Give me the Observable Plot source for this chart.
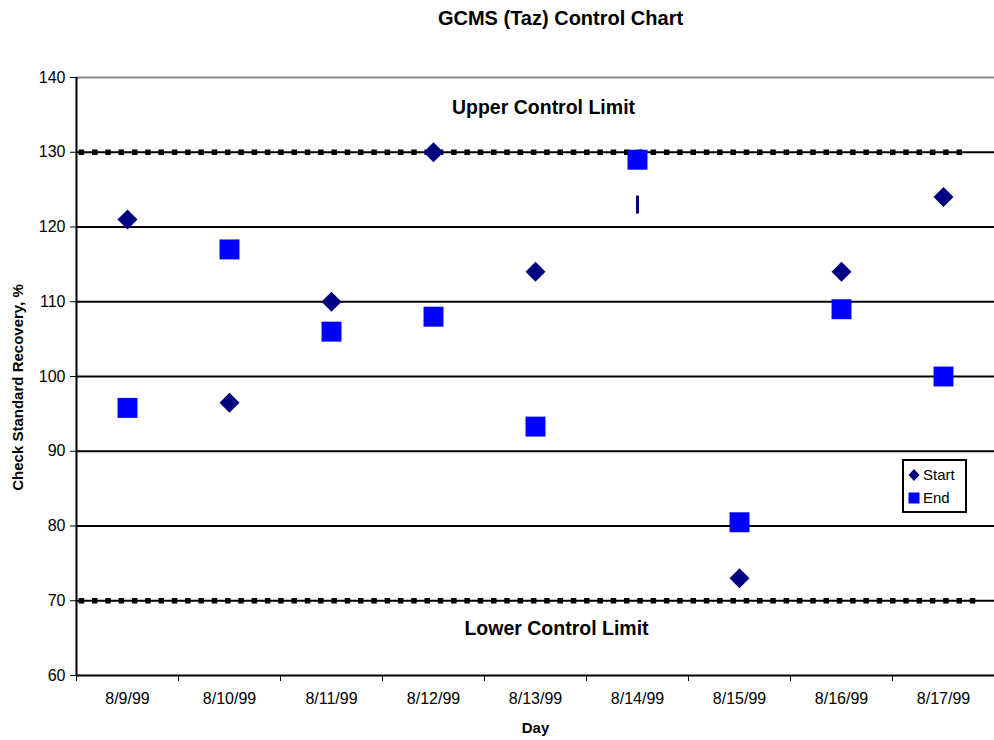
<!DOCTYPE html>
<html>
<head>
<meta charset="utf-8">
<script src="https://cdn.jsdelivr.net/npm/d3@7"></script>
<script src="https://cdn.jsdelivr.net/npm/@observablehq/plot@0.6"></script>
<style>
  html, body { margin: 0; padding: 0; background: #fff; }
  #wrap { position: relative; width: 994px; height: 740px; font-family: "Liberation Sans", Arial, sans-serif; }
  #legend { position: absolute; left: 902px; top: 459px; width: 61px; height: 50px; border: 2px solid #000; background: #fff; font-size: 15px; }
  .item { position: absolute; left: 4px; display: flex; align-items: center; }
  .item span { margin-left: 3px; }
</style>
</head>
<body>
<div id="wrap"></div>
<script>
const days = ["8/9/99","8/10/99","8/11/99","8/12/99","8/13/99","8/14/99","8/15/99","8/16/99","8/17/99"];
const startVals = [121, 96.5, 110, 130, 114, 123, 73, 114, 124];
const endVals = [95.8, 117, 106, 108, 93.3, 129, 80.5, 109, 100];
const yTicks = [60, 70, 80, 90, 100, 110, 120, 130, 140];
const gridLines = [80, 90, 100, 110, 120];
const controlLimits = [70, 130];
const upperLabel = "Upper Control Limit";
const lowerLabel = "Lower Control Limit";
const upperLabelValue = 136;
const lowerLabelValue = 66.2;
const title = "GCMS (Taz) Control Chart";
const yLabel = "Check Standard Recovery, %";
const xLabel = "Day";
const seriesNames = ["Start", "End"];

const idx = d3.range(days.length);
const startData = idx.map(i => ({i, v: startVals[i]}));
const endData = idx.map(i => ({i, v: endVals[i]}));
const narrow = {draw(ctx, size) { ctx.rect(-1.5, -9, 3, 18); }};
const font = "Liberation Sans, Arial, sans-serif";

const chart = Plot.plot({
  width: 994, height: 740,
  marginLeft: 76, marginRight: 0, marginTop: 77, marginBottom: 65,
  style: {fontFamily: font, color: "#000", background: "#fff"},
  x: {type: "linear", domain: [-0.5, days.length - 0.5]},
  y: {domain: [60, 140]},
  marks: [
    Plot.ruleY([140], {stroke: "#888", strokeWidth: 2}),
    Plot.ruleY(gridLines, {stroke: "#000", strokeWidth: 2}),
    Plot.ruleY(controlLimits, {stroke: "#000", strokeWidth: 2}),
    Plot.ruleY([130], {x1: -0.5, x2: 8.25, stroke: "#000", strokeWidth: 5.5, strokeDasharray: "5.5,7.8", strokeDashoffset: -16}),
    Plot.ruleY([70], {x1: -0.5, x2: 8.35, stroke: "#000", strokeWidth: 5.5, strokeDasharray: "5.5,7.8", strokeDashoffset: -16}),
    Plot.ruleY([60], {stroke: "#000", strokeWidth: 2}),
    Plot.ruleX([-0.5], {stroke: "#000", strokeWidth: 2}),
    Plot.axisY({ticks: yTicks, tickSize: 6, tickPadding: 5, fontSize: 16, label: null, tickFormat: d => d}),
    Plot.axisX({ticks: d3.range(-0.5, days.length, 1), tickSize: 6, tickFormat: () => "", label: null}),
    Plot.axisX({ticks: idx, tickSize: 0, tickPadding: 17, fontSize: 16, tickFormat: i => days[i], label: null}),
    Plot.text([upperLabel], {x: 4, y: upperLabelValue, fontSize: 19.5, fontWeight: "bold", dx: 8, fill: "#000"}),
    Plot.text([lowerLabel], {x: 4, y: lowerLabelValue, fontSize: 19.5, fontWeight: "bold", dx: 21, fill: "#000"}),
    Plot.dot(endData, {x: "i", y: "v", symbol: "square2", r: 12.7, fill: "#0000FF", stroke: "none"}),
    Plot.dot(startData.filter(d => d.i !== 5), {x: "i", y: "v", symbol: "diamond2", r: 9, fill: "#000080", stroke: "none"}),
    Plot.dot(startData.filter(d => d.i === 5), {x: "i", y: "v", symbol: narrow, r: 9, fill: "#000080", stroke: "none"}),
    Plot.text([title], {frameAnchor: "top", dx: 25, dy: -67, fontSize: 20, fontWeight: "bold", fill: "#000"}),
    Plot.text([xLabel], {frameAnchor: "bottom", dy: 57, fontSize: 15, fontWeight: "bold", fill: "#000"}),
    Plot.text([yLabel], {frameAnchor: "left", textAnchor: "middle", dx: -58, dy: 11, rotate: -90, fontSize: 15, fontWeight: "bold", fill: "#000"})
  ]
});
const wrap = document.getElementById("wrap");
wrap.appendChild(chart);

const legend = document.createElement("div");
legend.id = "legend";
legend.innerHTML =
  `<div class="item" style="top:5px"><svg width="12" height="14"><path d="M6,1 L11.5,7 L6,13 L0.5,7 Z" fill="#000080"/></svg><span>${seriesNames[0]}</span></div>` +
  `<div class="item" style="top:28px"><svg width="12" height="14"><rect x="0.5" y="1.5" width="11" height="11" fill="#0000FF"/></svg><span>${seriesNames[1]}</span></div>`;
wrap.appendChild(legend);
</script>
</body>
</html>
